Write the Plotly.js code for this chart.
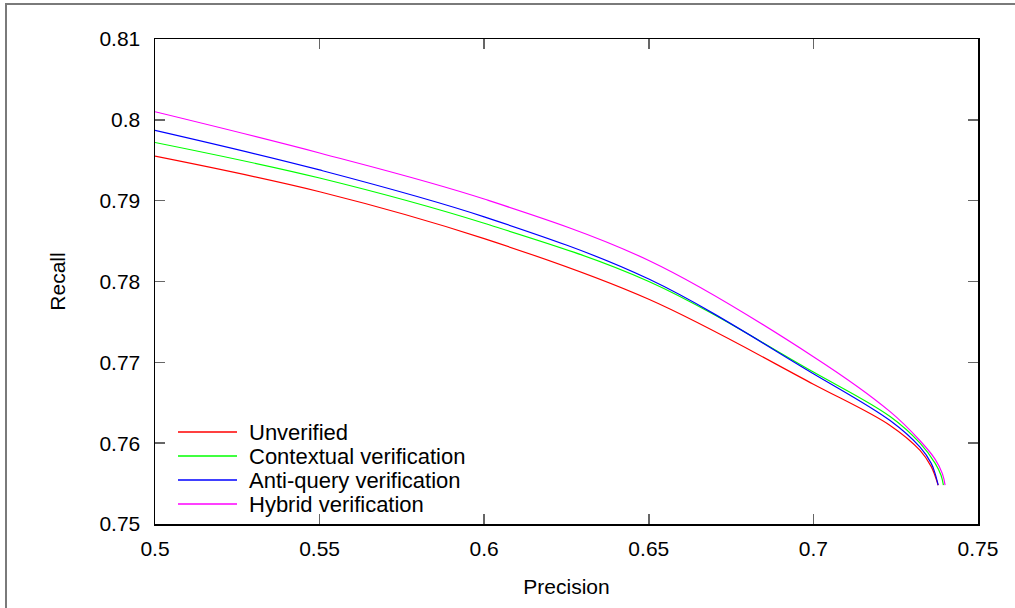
<!DOCTYPE html>
<html>
<head>
<meta charset="utf-8">
<script src="https://cdn.plot.ly/plotly-3.0.1.min.js"></script>
<style>
  html, body { margin: 0; padding: 0; background: #fff; }
  #wrap { position: relative; width: 1015px; height: 608px; overflow: hidden; }
  #chart { width: 1015px; height: 608px; }
  #frame { position: absolute; left: 5px; top: 3px; width: 1200px; height: 800px;
           border-left: 2px solid #7a7a7a; border-top: 2px solid #7a7a7a; pointer-events: none; }
</style>
</head>
<body>
<div id="wrap">
  <div id="chart"></div>
  <div id="frame"></div>
</div>
<script>
// Series (Precision -> Recall)
const seriesNames = ["Unverified", "Contextual verification", "Anti-query verification", "Hybrid verification"];
const seriesColors = ["#ff0000", "#00ff00", "#0000ff", "#ff00ff"];

const unverifiedPrecision = [0.500, 0.550, 0.600, 0.650, 0.700, 0.7233, 0.7324, 0.7358, 0.7370, 0.7379];
const unverifiedRecall    = [0.7955, 0.7911, 0.7853, 0.7778, 0.7673, 0.7622, 0.7591, 0.7571, 0.7559, 0.7548];

const contextualPrecision = [0.500, 0.550, 0.600, 0.650, 0.700, 0.7233, 0.7324, 0.7370, 0.7388, 0.7395];
const contextualRecall    = [0.7972, 0.7928, 0.7872, 0.7800, 0.7688, 0.7633, 0.7600, 0.7575, 0.7560, 0.7548];

const antiQueryPrecision  = [0.500, 0.550, 0.600, 0.650, 0.700, 0.7233, 0.7324, 0.7358, 0.7370, 0.7379];
const antiQueryRecall     = [0.7987, 0.7938, 0.7880, 0.7803, 0.7686, 0.7628, 0.7595, 0.7575, 0.7562, 0.7548];

const hybridPrecision     = [0.500, 0.550, 0.600, 0.650, 0.700, 0.7233, 0.7324, 0.7370, 0.7392, 0.7400];
const hybridRecall        = [0.8010, 0.7959, 0.7902, 0.7826, 0.7707, 0.7639, 0.7603, 0.7580, 0.7562, 0.7548];

const xTicks = [0.5, 0.55, 0.6, 0.65, 0.7, 0.75];
const yTicks = [0.75, 0.76, 0.77, 0.78, 0.79, 0.8, 0.81];

const xs = [unverifiedPrecision, contextualPrecision, antiQueryPrecision, hybridPrecision];
const ys = [unverifiedRecall, contextualRecall, antiQueryRecall, hybridRecall];

const traces = seriesNames.map((name, i) => ({
  type: "scatter",
  mode: "lines",
  name: name,
  x: xs[i],
  y: ys[i],
  line: { color: seriesColors[i], width: 1.2, shape: "spline", smoothing: 1 }
}));

const FONT = "Liberation Sans, Arial, sans-serif";

// Compact key (gnuplot-style spacing) built from the series names/colours
const W = 1015, H = 608, ML = 155, MR = 37, MT = 39, MB = 84;
const PW = W - ML - MR, PH = H - MT - MB;
const px2x = p => (p - ML) / PW;
const py2y = p => (H - MB - p) / PH;
const keyRowsY = [432, 456, 480, 504];
const keyShapes = seriesNames.map((n, i) => ({
  type: "line", xref: "paper", yref: "paper",
  x0: px2x(178), x1: px2x(237), y0: py2y(keyRowsY[i]), y1: py2y(keyRowsY[i]),
  line: { color: seriesColors[i], width: 1.3 }
}));
const keyLabels = seriesNames.map((n, i) => ({
  xref: "paper", yref: "paper", x: px2x(247), y: py2y(keyRowsY[i]),
  xanchor: "left", yanchor: "middle", showarrow: false, text: n,
  font: { family: FONT, size: 22, color: "#000" }
}));

const axisCommon = {
  showgrid: false,
  zeroline: false,
  showline: true,
  linecolor: "#000",
  linewidth: 1.5,
  mirror: "allticks",
  ticks: "inside",
  ticklen: 10,
  tickwidth: 1.5,
  tickcolor: "#666",
  tickfont: { family: FONT, size: 21, color: "#000" }
};

const layout = {
  width: W,
  height: H,
  margin: { l: ML, r: MR, t: MT, b: MB },
  paper_bgcolor: "rgba(0,0,0,0)",
  plot_bgcolor: "rgba(0,0,0,0)",
  font: { family: FONT, size: 21, color: "#000" },
  showlegend: false,
  shapes: keyShapes,
  annotations: keyLabels,
  xaxis: Object.assign({}, axisCommon, {
    range: [0.5, 0.75],
    tickvals: xTicks,
    ticktext: xTicks.map(v => String(v)),
    ticklabelstandoff: 5,
    title: { text: "Precision", standoff: 20, font: { family: FONT, size: 21, color: "#000" } }
  }),
  yaxis: Object.assign({}, axisCommon, {
    range: [0.75, 0.81],
    tickvals: yTicks,
    ticktext: yTicks.map(v => String(v)),
    ticklabelstandoff: 9,
    title: { text: "Recall", standoff: 28, font: { family: FONT, size: 21, color: "#000" } }
  })
};

Plotly.newPlot("chart", traces, layout, { displayModeBar: false, staticPlot: true });
</script>
</body>
</html>
